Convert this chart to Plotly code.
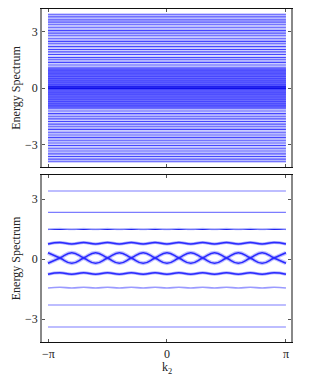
import math
import plotly.graph_objects as go

PI = math.pi

# top panel: flat spectrum levels
top_dark = [3.92, 3.78, 3.62, 3.50, 3.36, 3.20, 3.05, 2.92, 2.78, 2.62, 2.48, 2.35, 2.20,
            2.05, 1.92, 1.78, 1.62, 1.50, 1.36, 1.22, 1.08, 0.95, 0.85, 0.75, 0.62, 0.50,
            0.38, 0.28, 0.18, 0.10, 0.04, -0.02, -0.08, -0.16, -0.26, -0.36, -0.48, -0.60,
            -0.72, -0.84, -0.95, -1.08, -1.22, -1.36, -1.50, -1.64, -1.78, -1.92, -2.06,
            -2.20, -2.35, -2.50, -2.64, -2.78, -2.92, -3.06, -3.20, -3.35, -3.50, -3.64,
            -3.78, -3.92]
top_light = [3.85, 3.70, 3.56, 3.43, 3.28, 3.12, 2.98, 2.85, 2.70, 2.55, 2.42, 2.28, 2.12,
             1.98, 1.85, 1.70, 1.56, 1.43, 1.29, 1.15, 1.02, -1.02, -1.15, -1.29, -1.43,
             -1.57, -1.71, -1.85, -1.99, -2.13, -2.28, -2.42, -2.57, -2.71, -2.85, -2.99,
             -3.13, -3.28, -3.42, -3.57, -3.71, -3.85]
top_core = [0.98, 0.90, 0.80, 0.70, 0.56, 0.44, 0.33, 0.23, 0.14, 0.07, 0.0, -0.05,
            -0.12, -0.21, -0.31, -0.42, -0.54, -0.66, -0.78, -0.90, -1.0]
top_center = [0.06, -0.02]

# bottom panel
flat_bands = [3.40, 2.33, -2.30, -3.40]
flat_dark = [1.48]
k_nodes = [-1.0, -0.9, -0.8, -0.7, -0.6, -0.5, -0.4, -0.3, -0.2, -0.1, 0.0,
           0.1, 0.2, 0.3, 0.4, 0.5, 0.6, 0.7, 0.8, 0.9, 1.0]  # in units of pi
mid_a = [-0.21, 0.05, 0.31, 0.05, -0.21, 0.05, 0.31, 0.05, -0.21, 0.05, 0.31,
         0.05, -0.21, 0.05, 0.31, 0.05, -0.21, 0.05, 0.31, 0.05, -0.21]
mid_b = [0.31, 0.05, -0.21, 0.05, 0.31, 0.05, -0.21, 0.05, 0.31, 0.05, -0.21,
         0.05, 0.31, 0.05, -0.21, 0.05, 0.31, 0.05, -0.21, 0.05, 0.31]
band_up = [0.75, 0.82, 0.75, 0.82, 0.75, 0.82, 0.75, 0.82, 0.75, 0.82, 0.75,
           0.82, 0.75, 0.82, 0.75, 0.82, 0.75, 0.82, 0.75, 0.82, 0.75]
band_dn = [-0.76, -0.69, -0.76, -0.69, -0.76, -0.69, -0.76, -0.69, -0.76, -0.69, -0.76,
           -0.69, -0.76, -0.69, -0.76, -0.69, -0.76, -0.69, -0.76, -0.69, -0.76]
ghost_up = [1.47, 1.53, 1.47, 1.53, 1.47, 1.53, 1.47, 1.53, 1.47, 1.53, 1.47,
            1.53, 1.47, 1.53, 1.47, 1.53, 1.47, 1.53, 1.47, 1.53, 1.47]
ghost_dn = [-1.45, -1.41, -1.45, -1.41, -1.45, -1.41, -1.45, -1.41, -1.45, -1.41, -1.45,
            -1.41, -1.45, -1.41, -1.45, -1.41, -1.45, -1.41, -1.45, -1.41, -1.45]
x_ticks = [-PI, 0, PI]
x_ticklabels = ["\u2212\u03c0", "0", "\u03c0"]


def hlines(levels):
    xs, ys = [], []
    for e in levels:
        xs += [-PI, PI, None]
        ys += [e, e, None]
    return xs, ys


fig = go.Figure()

def add_levels(levels, color, width, ax):
    xs, ys = hlines(levels)
    fig.add_trace(go.Scatter(x=xs, y=ys, mode="lines", line=dict(color=color, width=width),
                             xaxis="x" + ax, yaxis="y" + ax, hoverinfo="skip"))

add_levels(top_light, "#b8bcff", 1.2, "")
add_levels(top_core, "#6a6aff", 3.0, "")
add_levels(top_dark, "#4646ff", 1.1, "")
add_levels(top_center, "#1010e8", 1.3, "")

add_levels(flat_bands, "#7c7cff", 1.1, "2")
add_levels(flat_dark, "#2020f0", 1.3, "2")

kx = [k * PI for k in k_nodes]

def add_curve(vals, color, width):
    fig.add_trace(go.Scatter(x=kx, y=vals, mode="lines",
                             line=dict(color=color, width=width, shape="spline", smoothing=1.3),
                             xaxis="x2", yaxis="y2", hoverinfo="skip"))

add_curve(ghost_up, "rgba(160,170,255,0.6)", 1.3)
add_curve(ghost_dn, "#9a9aff", 1.6)
for vals in (mid_a, mid_b):
    add_curve(vals, "rgba(100,100,255,0.4)", 4)
for vals in (band_up, band_dn):
    add_curve(vals, "rgba(70,70,255,0.45)", 3)
for vals in (mid_a, mid_b, band_up, band_dn):
    add_curve(vals, "#2a2aff", 1.5)

serif = "Liberation Serif"
txt = dict(size=12, family=serif, color="#222")
common_y = dict(range=[-4.2, 4.2], ticks="inside", ticklen=3, tickcolor="#555",
                showline=True, linecolor="#888", linewidth=1.5, mirror="ticks",
                showgrid=False, zeroline=False,
                tickvals=[-3, 0, 3], ticktext=["\u22123", "0", "3"],
                title=dict(text="Energy Spectrum", font=txt, standoff=2),
                tickfont=txt)
common_x = dict(range=[-3.30, 3.275], ticks="inside", ticklen=3, tickcolor="#555",
                showline=True, linecolor="#111", linewidth=1.2, mirror="ticks",
                showgrid=False, zeroline=False, tickvals=x_ticks, showticklabels=False)

# page body has an 8px margin, so the figure is offset by it
fig.update_layout(
    width=306, height=370,
    margin=dict(l=34, r=23, t=1, b=36),
    paper_bgcolor="white", plot_bgcolor="white",
    showlegend=False,
    font=dict(family=serif),
    xaxis=dict(common_x, domain=[0, 1], anchor="y"),
    yaxis=dict(common_y, domain=[0.5255, 1], anchor="x"),
    xaxis2=dict(common_x, domain=[0, 1], anchor="y2"),
    yaxis2=dict(common_y, domain=[0, 0.5015], anchor="x2", range=[-4.15, 4.2]),
)

# x tick labels and axis title just under the lower panel
for xv, lab in zip(x_ticks, x_ticklabels):
    fig.add_annotation(x=xv, xref="x2", y=0, yref="paper", yanchor="top", yshift=-3,
                       text=lab, showarrow=False, font=txt)
fig.add_annotation(x=0, xref="x2", y=0, yref="paper", yanchor="top", yshift=-16,
                   text="k<sub>2</sub>", showarrow=False, font=txt)

fig.write_html("out.html")
